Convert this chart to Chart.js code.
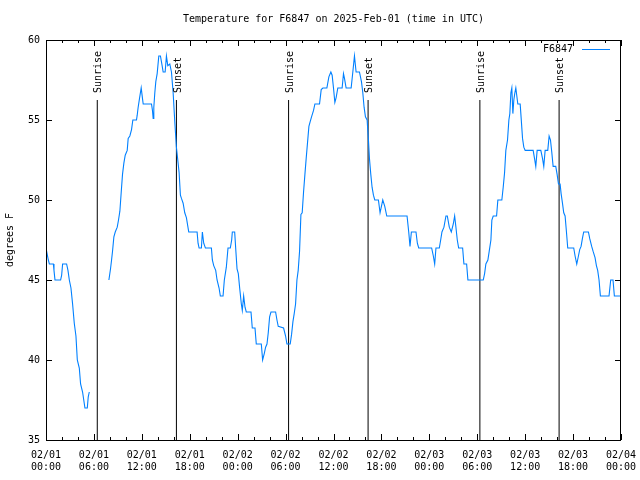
<!DOCTYPE html>
<html lang="en">
<head>
    <meta charset="UTF-8"/>
    <title>Temperature F6847</title>
    <script src="https://cdn.jsdelivr.net/npm/chart.js"></script>
    <style>
        body { margin: 0; background: #fff; }
        #chart { display: block; }
    </style>
</head>
<body>
    <canvas id="chart" width="640" height="480"></canvas>
    <script>
        // hours since 02/01 00:00 UTC and temperature in F (null = no data)
        var hours = [
            0, 0.29, 0.42, 0.92, 1.0, 1.125, 1.83, 1.96, 2.08, 2.58, 2.75, 2.92, 3.125, 3.33, 3.54, 3.75, 3.92,
            4.17, 4.33, 4.58, 4.875, 5.17, 5.29, 5.42,
            6.5,
            7.875, 8.08, 8.21, 8.33, 8.5, 8.67, 8.92, 9.08, 9.25, 9.42, 9.58, 9.75, 9.92, 10.17, 10.29, 10.5,
            10.71, 10.875, 11.33, 11.42, 11.54, 11.71, 11.92, 12.08, 12.17, 13.21, 13.33, 13.42, 13.5, 13.625,
            13.75, 13.92, 14.125, 14.33, 14.54, 14.67, 14.92, 15.08, 15.25, 15.5, 15.71, 15.92, 16.125, 16.33,
            16.5, 16.67, 16.83, 16.96, 17.17, 17.375, 17.58, 17.875, 18.92, 19.04, 19.17, 19.46, 19.58, 19.75,
            19.96, 20.71, 20.83, 21.0, 21.25, 21.42, 21.67, 21.83, 22.17, 22.33, 22.58, 22.79, 23.08, 23.25,
            23.33, 23.625, 23.75, 23.92, 24.08, 24.25, 24.46, 24.58, 24.75, 24.92, 25.08, 25.67, 25.83, 26.17,
            26.33, 26.96, 27.125, 27.33, 27.5, 27.67, 27.83, 28.0, 28.17, 28.75, 28.92, 29.08, 29.75, 30.0,
            30.17, 30.58, 30.75, 30.92, 31.08, 31.25, 31.42, 31.58, 31.75, 31.92, 32.08, 32.25, 32.42, 32.58,
            32.75, 32.92, 33.08, 33.25, 33.5, 33.67, 34.25, 34.46, 34.67, 35.17, 35.42, 35.67, 35.83, 36.0,
            36.17, 36.33, 36.54, 37.08, 37.25, 37.375, 37.58, 38.21, 38.42, 38.625, 38.83, 39.25, 39.5, 39.67,
            39.83, 40.0, 40.21, 40.375, 40.5, 40.67, 40.83, 41.0, 41.17, 41.625, 41.83, 42.0, 42.17, 42.42,
            42.67, 45.21, 45.42, 45.58, 45.75, 46.33, 46.5, 46.67, 48.29, 48.5, 48.67, 48.83, 49.25, 49.42,
            49.58, 49.83, 50.08, 50.25, 50.5, 50.75, 51.0, 51.17, 51.33, 51.5, 51.67, 52.17, 52.33, 52.67,
            52.83, 54.75, 54.92, 55.08, 55.33, 55.5, 55.71, 55.83, 56.0, 56.42, 56.58, 57.08, 57.25, 57.42,
            57.58, 57.79, 57.96, 58.08, 58.21, 58.33, 58.46, 58.58, 58.71, 58.83, 59.08, 59.375, 59.5, 59.67,
            59.83, 60.0, 61.0, 61.17, 61.33, 61.5, 61.96, 62.17, 62.33, 62.5, 62.83, 63.0, 63.17, 63.33, 63.5,
            63.83, 64.0, 64.17, 64.375, 64.5, 64.67, 64.83, 65.0, 65.17, 65.33, 66.08, 66.25, 66.46, 66.67,
            66.83, 67.0, 67.17, 67.33, 67.92, 68.08, 68.33, 68.5, 68.75, 68.92, 69.08, 69.25, 69.42, 70.5,
            70.71, 71.0, 71.17, 72
        ];
        var temps = [
            47, 46.25, 46, 46, 45.6, 45, 45, 45.3, 46, 46, 45.6, 45, 44.5, 43.5, 42.3, 41.5, 40,
            39.5, 38.5, 38, 37, 37, 37.7, 38,
            null,
            45, 45.7, 46.25, 46.8, 47.7, 48, 48.3, 48.75, 49.3, 50.5, 51.6, 52.3, 52.8, 53.1, 53.85, 54,
            54.4, 55, 55, 55.3, 55.8, 56.35, 57, 56.35, 56, 56, 55.6, 55.1, 55.8, 56.7,
            57.4, 57.9, 59, 59, 58.4, 58, 58, 59, 58.4, 58.5, 58, 56.7, 54.9, 53.3,
            52.5, 51.7, 50.3, 50.1, 49.8, 49.2, 48.9, 48, 48, 47.3, 47, 47, 48, 47.3,
            47, 47, 46.25, 45.9, 45.6, 45, 44.5, 44, 44, 45, 45.8, 47, 47, 47.5,
            48, 48, 47, 45.7, 45.4, 44.5, 43.5, 43.1, 44, 43.3, 43, 43, 42, 42,
            41, 41, 40, 40.4, 40.8, 41, 41.7, 42.7, 43, 43, 42.5, 42.1, 42, 41.5,
            41, 41, 41.6, 42.4, 42.9, 43.5, 45, 45.6, 46.8, 49.1, 49.2, 50.5, 51.6, 52.6,
            53.6, 54.6, 54.9, 55.2, 55.6, 56, 56, 56.9, 57, 57, 57.7, 58, 57.8, 57,
            56.1, 56.4, 57, 57, 57.9, 57.6, 57, 57, 58, 59, 58, 58, 57.4, 56.7,
            55.8, 55.2, 55, 53.75, 52.6, 51.6, 50.8, 50.3, 50, 50, 49.2, 49.6, 50, 49.6,
            49, 49, 48, 47.1, 48, 48, 47.3, 47, 47, 46.5, 46, 47, 47, 47.5,
            48, 48.3, 49, 49, 48.3, 48, 48.5, 49, 48.3, 47.5, 47, 47, 46, 46,
            45, 45, 45.4, 46, 46.25, 46.8, 47.5, 48.75, 49, 49, 50, 50, 50.8, 51.7,
            53.1, 53.75, 55, 55.4, 56.7, 57, 55.4, 56.25, 56.7, 57, 56, 56, 55.1, 53.85,
            53.3, 53.1, 53.1, 52.6, 52.1, 53.1, 53.1, 52.6, 52.1, 53.1, 53.1, 54, 53.75, 53, 52.1,
            52.1, 51.6, 51, 51, 50.4, 49.8, 49.2, 49, 48, 47, 47, 46.5, 46, 46.5,
            46.9, 47.1, 47.6, 48, 48, 47.6, 47.1, 46.8, 46.4, 45.9, 45.6, 45, 44, 44,
            45, 45, 44, 44
        ];

        var sunHours = [6.42, 16.33, 30.375, 40.33, 54.33, 64.25];
        var sunLabels = ['Sunrise', 'Sunset', 'Sunrise', 'Sunset', 'Sunrise', 'Sunset'];
        var sunLineTop = 56.25;

        var xTickLabels = [
            ['02/01', '00:00'], ['02/01', '06:00'], ['02/01', '12:00'], ['02/01', '18:00'],
            ['02/02', '00:00'], ['02/02', '06:00'], ['02/02', '12:00'], ['02/02', '18:00'],
            ['02/03', '00:00'], ['02/03', '06:00'], ['02/03', '12:00'], ['02/03', '18:00'],
            ['02/04', '00:00']
        ];

        var lineColor = 'rgb(0,128,255)';
        var FONT = "'DejaVu Sans Mono', monospace";

        Chart.defaults.font.family = FONT;
        Chart.defaults.font.size = 10;
        Chart.defaults.color = '#000';

        var points = hours.map(function(h, i) { return {x: h, y: temps[i]}; });

        var datasets = [{
            label: 'F6847',
            data: points,
            borderColor: lineColor,
            borderWidth: 1.1,
            pointRadius: 0,
            spanGaps: false,
            tension: 0
        }];
        sunHours.forEach(function(h) {
            datasets.push({
                label: 'sun',
                data: [{x: h, y: 35}, {x: h, y: sunLineTop}],
                borderColor: '#000',
                borderWidth: 1,
                pointRadius: 0
            });
        });

        // gnuplot style frame, inward ticks, sun labels and key
        var gnuplotLook = {
            id: 'gnuplotLook',
            afterDatasetsDraw: function(chart) {
                var ctx = chart.ctx;
                var a = chart.chartArea;
                var xs = chart.scales.x, ys = chart.scales.y;
                ctx.save();
                ctx.strokeStyle = '#000';
                ctx.lineWidth = 1;
                ctx.strokeRect(Math.round(a.left) + 0.5, Math.round(a.top) + 0.5,
                    Math.round(a.right - a.left) - 1, Math.round(a.bottom - a.top));

                ctx.beginPath();
                for (var h = 0; h <= 72; h += 2) {
                    var px = Math.round(xs.getPixelForValue(h)) + 0.5;
                    var len = (h % 6 === 0) ? 6 : 3;
                    ctx.moveTo(px, a.bottom); ctx.lineTo(px, a.bottom - len);
                    ctx.moveTo(px, a.top); ctx.lineTo(px, a.top + len);
                }
                for (var t = 35; t <= 60; t += 5) {
                    var py = Math.round(ys.getPixelForValue(t)) + 0.5;
                    ctx.moveTo(a.left, py); ctx.lineTo(a.left + 6, py);
                    ctx.moveTo(a.right, py); ctx.lineTo(a.right - 6, py);
                }
                ctx.stroke();

                ctx.fillStyle = '#000';
                ctx.font = '10px ' + FONT;
                ctx.textAlign = 'left';
                ctx.textBaseline = 'middle';
                sunHours.forEach(function(h, i) {
                    var x = xs.getPixelForValue(h) + 1.5;
                    var y = ys.getPixelForValue(sunLineTop) - 7;
                    ctx.save();
                    ctx.translate(x, y);
                    ctx.rotate(-Math.PI / 2);
                    ctx.fillText(sunLabels[i], 0, 0);
                    ctx.restore();
                });

                var ky = a.top + 9.5;
                ctx.textAlign = 'right';
                ctx.fillText(chart.data.datasets[0].label, a.right - 48, ky);
                ctx.strokeStyle = lineColor;
                ctx.beginPath();
                ctx.moveTo(a.right - 39, ky);
                ctx.lineTo(a.right - 11, ky);
                ctx.stroke();
                ctx.restore();
            }
        };

        new Chart(document.getElementById('chart'), {
            type: 'line',
            data: { datasets: datasets },
            plugins: [gnuplotLook],
            options: {
                responsive: false,
                animation: false,
                layout: { padding: { left: 0, right: 19, top: 0, bottom: 0 } },
                plugins: {
                    legend: { display: false },
                    tooltip: { enabled: false },
                    title: {
                        display: true,
                        text: 'Temperature for F6847 on 2025-Feb-01 (time in UTC)',
                        fullSize: false,
                        font: { size: 10, weight: 'normal', family: FONT },
                        color: '#000',
                        padding: { top: 13, bottom: 15 }
                    }
                },
                scales: {
                    x: {
                        type: 'linear',
                        min: 0,
                        max: 72,
                        grid: { display: false, drawTicks: false },
                        border: { display: false },
                        ticks: {
                            stepSize: 6,
                            autoSkip: false,
                            maxRotation: 0,
                            padding: 9,
                            callback: function(v, i) { return xTickLabels[i]; }
                        },
                        afterFit: function(s) {
                            s.height = 40;
                            s.paddingLeft = 0;
                            s.paddingRight = 0;
                        }
                    },
                    y: {
                        min: 35,
                        max: 60,
                        grid: { display: false, drawTicks: false },
                        border: { display: false },
                        ticks: { stepSize: 5, padding: 6 },
                        title: { display: true, text: 'degrees F', padding: { top: 4, bottom: 0 } },
                        afterFit: function(s) { s.width = 46; }
                    }
                }
            }
        });
    </script>
</body>
</html>
